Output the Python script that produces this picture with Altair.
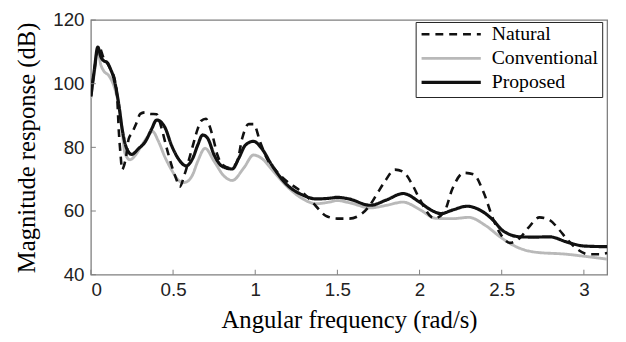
import math
import altair as alt
import pandas as pd

# ---- data ----
natural_x = [0.00, 0.02, 0.048, 0.078, 0.096, 0.12, 0.146, 0.16, 0.17, 0.18, 0.19, 0.20,
             0.216, 0.23, 0.25, 0.276, 0.30, 0.33, 0.36, 0.40, 0.43, 0.46, 0.49, 0.52,
             0.54, 0.57, 0.61, 0.65, 0.67, 0.70, 0.72, 0.74, 0.77, 0.80, 0.85, 0.89,
             0.92, 0.96, 0.99, 1.03, 1.07, 1.13, 1.19, 1.26, 1.32, 1.37, 1.43, 1.50,
             1.57, 1.65, 1.70, 1.74, 1.79, 1.85, 1.90, 1.96, 2.00, 2.09, 2.15, 2.20,
             2.27, 2.33, 2.39, 2.45, 2.49, 2.55, 2.61, 2.66, 2.73, 2.79, 2.85, 2.90,
             2.96, 3.03, 3.10, 3.1416]
natural_y = [96, 104, 111.8, 108, 106.7, 104.5, 101, 95.5, 85, 78, 73, 74,
             77.7, 82.7, 84.5, 87.5, 90.5, 91, 90.5, 90.4, 86, 80, 74.5, 70,
             67.6, 71.5, 78.6, 85.8, 88.3, 89, 87, 83.7, 77.6, 74.5, 73.5, 75.5,
             82.7, 87.3, 87.3, 81.7, 76.6, 72.5, 69.4, 66.9, 64.3, 61.5, 58.5, 57.6,
             57.6, 59.2, 62, 65.3, 69.4, 73, 72.3, 67.9, 63.8, 57.7, 59.7, 67,
             72, 71.5, 65.8, 57.2, 53, 50, 51.5, 54.6, 58, 57.2, 54.1, 51,
             48, 46.4, 46.4, 46.8]

conventional_x = [0.00, 0.02, 0.042, 0.06, 0.078, 0.108, 0.148, 0.178, 0.208, 0.238, 0.27,
                  0.308, 0.34, 0.375, 0.41, 0.45, 0.49, 0.53, 0.56, 0.59, 0.62, 0.65,
                  0.695, 0.75, 0.81, 0.86, 0.93, 0.99, 1.04, 1.11, 1.19, 1.29, 1.37,
                  1.45, 1.50, 1.58, 1.70, 1.80, 1.90, 2.00, 2.10, 2.20, 2.30, 2.40,
                  2.50, 2.60, 2.70, 2.90, 3.00, 3.1416]
conventional_y = [95.5, 103, 110.3, 106, 104, 102.6, 98, 90.9, 78, 76.1, 77.5,
                  80.5, 83, 85, 82, 77, 73, 69.8, 68.9, 69.4, 71.5, 75.6,
                  79.7, 75.6, 71, 69.6, 73.5, 77.6, 76.5, 72.5, 67.9, 63.8, 62.3,
                  62.8, 63.3, 62.5, 61, 61.8, 62.8, 60.5, 57.7, 57.6, 58, 55.5,
                  51.5, 48.5, 47.1, 46.4, 45.8, 44.9]

proposed_x = [0.00, 0.02, 0.042, 0.06, 0.078, 0.098, 0.12, 0.138, 0.168, 0.19, 0.218,
              0.248, 0.29, 0.33, 0.37, 0.40, 0.45, 0.49, 0.53, 0.58, 0.62, 0.65, 0.68,
              0.71, 0.75, 0.80, 0.86, 0.90, 0.94, 0.99, 1.04, 1.10, 1.19, 1.29, 1.37,
              1.45, 1.50, 1.57, 1.70, 1.80, 1.90, 2.00, 2.07, 2.13, 2.20, 2.29, 2.36,
              2.45, 2.50, 2.55, 2.61, 2.70, 2.79, 2.90, 3.00, 3.1416]
proposed_y = [96, 104, 111.5, 108.5, 107.2, 106.7, 104.5, 102, 94, 85.8, 79.6,
              77.8, 79.6, 81.7, 85.8, 88.6, 86.3, 80.7, 76.6, 74.2, 76.6, 80.7, 83.9,
              82.9, 77.6, 74, 73.2, 76.6, 80.7, 81.9, 79.6, 74.5, 68.4, 65, 63.8,
              64, 64.3, 63.8, 61.8, 63.5, 65.5, 62.8, 60.3, 59.2, 60.3, 61.5, 60.5,
              57, 54.1, 52.6, 51.9, 51.8, 51.9, 50.2, 49, 48.8]

series_order = ["Natural", "Conventional", "Proposed"]
x_ticks = [0, 0.5, 1, 1.5, 2, 2.5, 3]
y_ticks = [40, 60, 80, 100, 120]

rows = []
for name, xs, ys in [("Conventional", conventional_x, conventional_y),
                     ("Natural", natural_x, natural_y),
                     ("Proposed", proposed_x, proposed_y)]:
    for xv, yv in zip(xs, ys):
        rows.append({"w": xv, "mag": yv, "series": name})
df = pd.DataFrame(rows)

W, H = 523, 258
xscale = alt.Scale(domain=[0, math.pi], nice=False, zero=False)
yscale = alt.Scale(domain=[40, 120], nice=False, zero=False)

legend = alt.Legend(
    title=None, orient="none", legendX=329, legendY=2,
    symbolType="stroke", symbolSize=3600, clipHeight=17,
    labelFont="Liberation Serif", labelFontSize=20, labelColor="black",
    strokeColor="#222222", fillColor="white", padding=4,
    labelOffset=9, rowPadding=3.3, labelLimit=300,
)

lines = alt.Chart(df).mark_line(interpolate="monotone", clip=True).encode(
    x=alt.X("w:Q", scale=xscale,
            axis=alt.Axis(values=x_ticks, format="~g", title="Angular frequency (rad/s)",
                          titleBaseline="alphabetic", titleY=54, labelPadding=6)),
    y=alt.Y("mag:Q", scale=yscale,
            axis=alt.Axis(values=y_ticks, title="Magnitude response (dB)",
                          titleBaseline="alphabetic", titleX=-57, labelPadding=7)),
    color=alt.Color("series:N", scale=alt.Scale(domain=series_order,
                                                range=["#111111", "#b9b9b9", "#111111"]),
                    legend=legend),
    strokeDash=alt.StrokeDash("series:N", scale=alt.Scale(domain=series_order,
                                                          range=[[8, 6], [1, 0], [1, 0]]),
                              legend=legend),
    strokeWidth=alt.StrokeWidth("series:N", scale=alt.Scale(domain=series_order,
                                                            range=[2.6, 3.2, 2.0]),
                                legend=legend),
)

xt = alt.Chart(pd.DataFrame({"w": x_ticks})).mark_rule(color="#7f7f7f", strokeWidth=1).encode(
    x=alt.X("w:Q", scale=xscale), y=alt.value(H), y2=alt.value(H - 5))
yt = alt.Chart(pd.DataFrame({"mag": y_ticks})).mark_rule(color="#7f7f7f", strokeWidth=1).encode(
    y=alt.Y("mag:Q", scale=yscale), x=alt.value(0), x2=alt.value(5))

chart = alt.layer(lines, xt, yt).properties(
    width=W, height=H,
    autosize=alt.AutoSizeParams(type="none"),
    padding={"left": 84, "top": 10, "right": 11, "bottom": 64},
    background="white",
).configure_view(stroke="#7f7f7f", strokeWidth=1.3).configure_axis(
    domain=False, ticks=False, tickSize=0, grid=False,
    labelFont="Liberation Sans", labelFontSize=19, labelColor="#222222",
    titleFont="Liberation Serif", titleFontSize=25, titleFontWeight="normal", titleColor="black",
)

chart.save("out.html", embed_options={"renderer": "svg", "actions": False})
